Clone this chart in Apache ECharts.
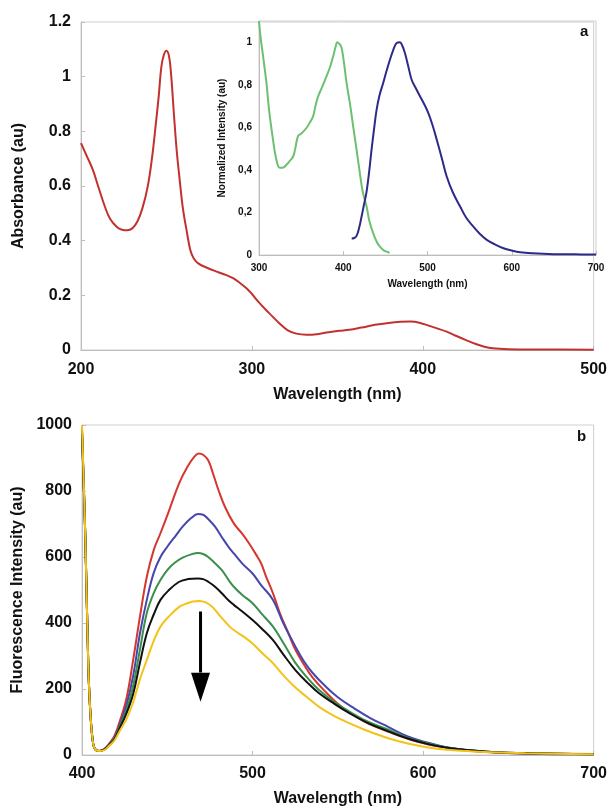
<!DOCTYPE html>
<html><head><meta charset="utf-8">
<script src="https://cdn.jsdelivr.net/npm/echarts@6/dist/echarts.min.js"></script>
<style>html,body{margin:0;padding:0;background:#fff}#c{width:610px;height:808px}</style>
</head><body><div id="c"></div>
<script>
// Panel a: absorbance (wavelength nm, absorbance au)
const absorbance = [[200,0.757],[203,0.715],[207,0.658],[210,0.60],[214,0.524],[217,0.48],[221,0.45],[224,0.44],[227,0.438],[230,0.445],[233,0.47],[236,0.52],[239,0.597],[241.5,0.70],[243.6,0.816],[245.5,0.93],[247,1.035],[248.5,1.08],[250,1.095],[251.5,1.075],[252.7,1.01],[254.3,0.87],[256,0.73],[257.8,0.62],[259.5,0.524],[262,0.43],[264,0.365],[266,0.335],[268.6,0.317],[274,0.30],[279.8,0.286],[285,0.274],[289,0.263],[293,0.245],[297,0.225],[300,0.205],[304,0.175],[308,0.148],[311.7,0.125],[316,0.098],[320.8,0.073],[326,0.06],[332,0.056],[338,0.058],[345,0.065],[351,0.07],[357,0.074],[364,0.082],[372,0.092],[380,0.099],[387,0.103],[393,0.104],[398,0.1],[403,0.09],[408,0.08],[414,0.067],[419,0.053],[425,0.037],[431,0.022],[436,0.012],[441,0.006],[450,0.003],[470,0.002],[500,0.001]];
// Inset: normalized excitation (green) and emission (blue)
const excitation = [[300,1.1],[302,1.02],[305,0.93],[308.8,0.81],[312,0.68],[316.7,0.54],[320,0.46],[324.6,0.41],[328,0.41],[332.5,0.424],[336,0.44],[340.5,0.463],[343,0.5],[346.4,0.56],[350,0.57],[356.3,0.597],[360,0.62],[364.2,0.652],[367,0.70],[370.2,0.746],[375,0.79],[380.1,0.84],[384,0.88],[388,0.934],[391,0.98],[393,1.0],[396,0.99],[398,0.974],[401,0.9],[403.9,0.81],[408,0.71],[411.8,0.604],[416,0.49],[419.7,0.385],[423,0.3],[427.7,0.228],[431,0.16],[435.6,0.102],[440,0.06],[443.5,0.039],[448,0.022],[453.4,0.013],[455,0.011]];
const emission = [[410,0.078],[413,0.08],[415.8,0.09],[419,0.13],[421.7,0.18],[424.5,0.235],[427.7,0.298],[431,0.4],[433.6,0.495],[436.5,0.59],[439.6,0.683],[443,0.75],[447.5,0.81],[451,0.86],[455.4,0.918],[459,0.96],[463.4,0.997],[467.3,1.0],[470,0.985],[473.2,0.95],[477,0.89],[481.2,0.824],[486,0.785],[491.1,0.746],[496,0.71],[501,0.667],[506,0.61],[511,0.542],[517,0.455],[522.8,0.369],[530,0.295],[538.7,0.228],[546,0.175],[554.5,0.133],[562,0.1],[570.4,0.071],[580,0.05],[590.2,0.032],[600,0.021],[610,0.013],[625,0.008],[649.6,0.004],[675,0.003],[700,0.002]];
// Panel b: fluorescence intensity series
const fluoRed = [[400,990],[402,650],[403.7,270],[405,120],[406.6,32],[408,16],[410,12],[413,18],[416,35],[419,58],[422,100],[426,170],[430,288],[434,420],[438,540],[442,620],[446,672],[451,740],[457,824],[462,875],[466,905],[468.5,914],[471,910],[474,893],[477,850],[480,803],[484,750],[489,702],[494,670],[498,641],[502,608],[505,581],[508,540],[512,490],[516,430],[521,369],[525,320],[530,275],[535,236],[544,185],[550,155],[557,128],[565,103],[573,84],[580,70],[590,51],[603,32],[615,22],[626,14],[640,9],[650,6],[670,4],[700,3]];
const fluoBlue = [[400,985],[402,650],[403.7,270],[405,120],[406.6,32],[408,16],[410,12],[413,17],[416,33],[419,52],[422,90],[426,150],[430,240],[434,369],[438,470],[442,551],[446,600],[450,631],[455,665],[459,692],[464,718],[468,730],[471,728],[474,715],[478,692],[482,660],[486,630],[489,611],[494,580],[500,550],[505,515],[512,470],[518,400],[525,330],[530,285],[535,250],[542,212],[550,175],[560,140],[569,112],[580,84],[591,56],[603,37],[614,23],[626,15],[637,9],[650,6],[670,3],[700,2]];
const fluoGreen = [[400,980],[402,650],[403.7,270],[405,120],[406.6,32],[408,16],[410,12],[413,16],[416,32],[419,50],[422,85],[426,135],[430,210],[434,320],[438,430],[442,490],[446,530],[450,560],[454,581],[459,598],[464,608],[468,612],[471,609],[474,600],[478,581],[482,560],[486,530],[489,510],[494,485],[500,460],[505,430],[512,389],[518,340],[525,280],[532,235],[539,197],[548,160],[557,131],[568,100],[580,76],[591,52],[603,35],[614,23],[626,15],[640,9],[660,5],[700,2]];
const fluoBlack = [[400,975],[402,650],[403.7,270],[405,120],[406.6,32],[408,16],[410,12],[413,16],[416,30],[419,47],[422,80],[426,125],[430,185],[434,280],[438,369],[442,425],[446,470],[451,500],[457,525],[462,533],[468,535],[471,533],[474,525],[478,510],[482,490],[486,468],[489,455],[494,435],[500,409],[505,385],[512,348],[518,305],[525,258],[532,220],[539,187],[548,155],[557,126],[568,96],[580,71],[591,50],[603,33],[614,22],[626,15],[640,9],[660,5],[700,2]];
const fluoYellow = [[400,1000],[402,650],[403.7,270],[405,120],[406.6,32],[408,16],[410,12],[413,15],[416,28],[419,44],[422,72],[426,108],[430,160],[434,230],[438,288],[442,345],[446,389],[451,420],[457,449],[461,458],[465,465],[469,467],[473,461],[476,451],[478,440],[482,415],[486.6,389],[490,375],[495,358],[500,338],[505,312],[512,278],[518,242],[525,205],[532,175],[539,146],[548,118],[557,96],[568,72],[580,50],[591,35],[603,23],[614,16],[626,12],[640,8],[660,5],[700,2]];
// Arrow in panel b (wavelength, intensity)
const arrowShaft = [[469.5,435],[469.5,250]];
const arrowHead = [[469.5,205]];

const FONT = '"Liberation Sans", Arial, sans-serif';
const gray = '#bdbdbd';
const tickStyle = {show:true, inside:true, length:4, lineStyle:{color:gray}};
function xAxisCfg(idx, min, max, fs, margin, name, gap) {
  return {type:'value', gridIndex:idx, min:min, max:max, interval:100,
    axisLine:{lineStyle:{color:gray, width:1}},
    axisTick:tickStyle,
    splitLine:{show:false},
    axisLabel:{color:'#111', fontFamily:FONT, fontWeight:'bold', fontSize:fs, margin:margin},
    name:name, nameLocation:'middle', nameGap:gap,
    nameTextStyle:{color:'#111', fontFamily:FONT, fontWeight:'bold', fontSize: idx===1?10:16}};
}
const SM = 0.4;
function curve(xi, data, color, w) {
  return {type:'line', xAxisIndex:xi, yAxisIndex:xi, data:data, showSymbol:false, smooth:SM,
    lineStyle:{color:color, width:w || 2}};
}
const chart = echarts.init(document.getElementById('c'), null, {renderer:'canvas'});
chart.setOption({
  animation:false,
  backgroundColor:'#fff',
  grid:[
    {left:81, right:14, top:22, height:328, show:true, borderColor:'#cfcfcf', borderWidth:1},
    {left:259, right:14, top:21, height:234, show:true, borderColor:'#cfcfcf', borderWidth:1},
    {left:82, right:16, top:425, height:330, show:true, borderColor:'#cfcfcf', borderWidth:1}
  ],
  xAxis:[
    xAxisCfg(0, 200, 500, 16, 12, 'Wavelength (nm)', 37),
    xAxisCfg(1, 300, 700, 10, 8, 'Wavelength (nm)', 24),
    xAxisCfg(2, 400, 700, 16, 11, 'Wavelength (nm)', 36)
  ],
  yAxis:[
    {type:'value', gridIndex:0, min:0, max:1.2, interval:0.2,
      axisLine:{show:true, lineStyle:{color:gray}}, axisTick:tickStyle, splitLine:{show:false},
      axisLabel:{color:'#111', fontFamily:FONT, fontWeight:'bold', fontSize:16, margin:10,
        formatter:v=>String(+v.toFixed(1))},
      name:'Absorbance (au)', nameLocation:'middle', nameGap:54,
      nameTextStyle:{color:'#111', fontFamily:FONT, fontWeight:'bold', fontSize:16}},
    {type:'value', gridIndex:1, min:0, max:1.1, interval:0.2,
      axisLine:{show:true, lineStyle:{color:gray}}, axisTick:{show:false}, splitLine:{show:false},
      axisLabel:{color:'#111', fontFamily:FONT, fontWeight:'bold', fontSize:10, margin:7, showMaxLabel:false,
        formatter:v=>{const s=String(+v.toFixed(1)); return s.replace('.',',');}},
      name:'Normalized Intensity (au)', nameLocation:'middle', nameGap:27,
      nameTextStyle:{color:'#111', fontFamily:FONT, fontWeight:'bold', fontSize:10}},
    {type:'value', gridIndex:2, min:0, max:1000, interval:200,
      axisLine:{show:true, lineStyle:{color:gray}}, axisTick:tickStyle, splitLine:{show:false},
      axisLabel:{color:'#111', fontFamily:FONT, fontWeight:'bold', fontSize:16, margin:10,
        formatter:v=>String(v)},
      name:'Fluorescence Intensity (au)', nameLocation:'middle', nameGap:56,
      nameTextStyle:{color:'#111', fontFamily:FONT, fontWeight:'bold', fontSize:16}}
  ],
  series:[
    curve(0, absorbance, '#c3312f'),
    curve(1, excitation, '#6cc070'),
    curve(1, emission, '#2e2a88'),
    curve(2, fluoRed, '#d5362f'),
    curve(2, fluoBlue, '#4646ad'),
    curve(2, fluoGreen, '#3b8f4a'),
    curve(2, fluoBlack, '#111111'),
    curve(2, fluoYellow, '#f3c317'),
    {type:'line', xAxisIndex:2, yAxisIndex:2, data:arrowShaft, showSymbol:false, z:5,
      lineStyle:{color:'#000', width:3}},
    {type:'scatter', xAxisIndex:2, yAxisIndex:2, data:arrowHead, symbol:'triangle', symbolRotate:180,
      symbolSize:[19,29], z:5, itemStyle:{color:'#000', opacity:1}}
  ],
  graphic:[
    {type:'text', left:580, top:24, style:{text:'a', fill:'#111', font:'bold 15px "Liberation Sans", Arial, sans-serif'}},
    {type:'text', left:577, top:429, style:{text:'b', fill:'#111', font:'bold 15px "Liberation Sans", Arial, sans-serif'}}
  ]
});
</script>
</body></html>
